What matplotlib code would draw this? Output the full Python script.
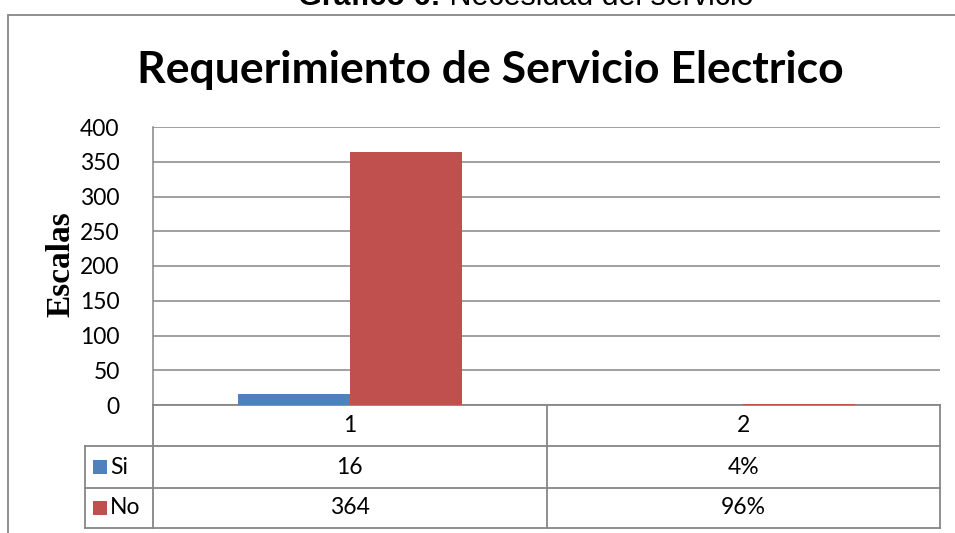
import matplotlib
matplotlib.use("Agg")
import matplotlib.pyplot as plt
from matplotlib.patches import Rectangle
from matplotlib.lines import Line2D
from matplotlib.transforms import blended_transform_factory

# ---- data ----
categories = ["1", "2"]
series_names = ["Si", "No"]
si_values = [16, 0.04]
no_values = [364, 0.96]
si_labels = ["16", "4%"]
no_labels = ["364", "96%"]
yticks = [0, 50, 100, 150, 200, 250, 300, 350, 400]
title = "Requerimiento de Servicio Electrico"
ylabel = "Escalas"
caption_bold = "Gráfico 6:"
caption_rest = " Necesidad del servicio"

colors = {"Si": "#4F81BD", "No": "#C0504D"}
GRID = "#868686"
FS = 16.5

W, H = 955, 533
fig = plt.figure(figsize=(W / 100, H / 100), dpi=100)
fig.patch.set_facecolor("white")

def fx(px):
    return px / W

def fy(py):
    return 1 - py / H

# outer frame
fig.add_artist(Rectangle((fx(8), fy(560)), fx(1000), fy(15) - fy(560), transform=fig.transFigure,
                         fill=False, edgecolor=GRID, lw=1.3))

# caption at top (partially cut off, as in the reference)
cap = fig.text(fx(298), fy(5), caption_bold, fontsize=22, fontweight="bold",
               family="Liberation Sans", va="baseline", ha="left")
fig.canvas.draw()
bb = cap.get_window_extent()
fig.text(bb.x1 / W, fy(5), caption_rest, fontsize=22, family="Liberation Sans",
         va="baseline", ha="left")

# plot axes
left, right, top, bottom = 153, 940, 127, 405
ax = fig.add_axes([fx(left), fy(bottom), fx(right) - fx(left), fy(top) - fy(bottom)])
x = list(range(len(categories)))
bw = 0.285
ax.bar([i - bw / 2 for i in x], si_values, width=bw, color=colors["Si"], zorder=3)
ax.bar([i + bw / 2 for i in x], no_values, width=bw, color=colors["No"], zorder=3)
ax.set_xlim(-0.5, len(categories) - 0.5)
ax.set_ylim(0, 400)
ax.set_yticks(yticks)
ax.set_yticklabels([str(v) for v in yticks], fontsize=FS, family="Lato")
ax.tick_params(axis="y", length=0, pad=24)
ax.set_xticks([])
ax.grid(axis="y", color=GRID, lw=1.1, zorder=0)
for s in ["top", "right"]:
    ax.spines[s].set_visible(False)
ax.spines["left"].set_color(GRID)
ax.spines["bottom"].set_color(GRID)
ax.spines["left"].set_linewidth(1.1)
ax.spines["bottom"].set_linewidth(1.3)

# y label
fig.text(fx(61), fy(264), ylabel, rotation=90, fontsize=24, fontweight="bold",
         family="Liberation Serif", ha="center", va="center")

# title
fig.text(fx(490), fy(83), title, fontsize=32, fontweight="bold", family="Lato",
         ha="center", va="baseline")

# ---- data table ----
rows_y = [405, 446, 488, 528]
legend_left = 85
tr = blended_transform_factory(ax.transData, fig.transFigure)

def hline(x0, x1, y):
    fig.add_artist(Line2D([fx(x0), fx(x1)], [fy(y), fy(y)], transform=fig.transFigure,
                          color=GRID, lw=1.3))

def vline(xp, y0, y1):
    fig.add_artist(Line2D([fx(xp), fx(xp)], [fy(y0), fy(y1)], transform=fig.transFigure,
                          color=GRID, lw=1.3))

hline(legend_left, right, rows_y[1])
hline(legend_left, right, rows_y[2])
hline(legend_left, right, rows_y[3])
vline(left, rows_y[0], rows_y[3])
vline(right, rows_y[0], rows_y[3])
vline(legend_left, rows_y[1], rows_y[3])
for i in range(len(categories) - 1):
    xs = ax.transData.transform((i + 0.5, 0))[0]
    vline(xs, rows_y[0], rows_y[3])

def row_center(r):
    return fy((rows_y[r] + rows_y[r + 1]) / 2)

for i, c in enumerate(categories):
    ax.text(i, row_center(0), c, transform=tr, ha="center", va="center", fontsize=FS, family="Lato")
    ax.text(i, row_center(1), si_labels[i], transform=tr, ha="center", va="center", fontsize=FS, family="Lato")
    ax.text(i, row_center(2), no_labels[i], transform=tr, ha="center", va="center", fontsize=FS, family="Lato")

for r, name in enumerate(series_names, start=1):
    yc = (rows_y[r] + rows_y[r + 1]) / 2
    fig.add_artist(Rectangle((fx(93), fy(yc + 7)), fx(14), fy(yc - 7) - fy(yc + 7),
                             transform=fig.transFigure, color=colors[name], lw=0))
    fig.text(fx(110), fy(yc), name, fontsize=FS, family="Lato", ha="left", va="center")

fig.savefig("out.png", dpi=100, facecolor="white")
